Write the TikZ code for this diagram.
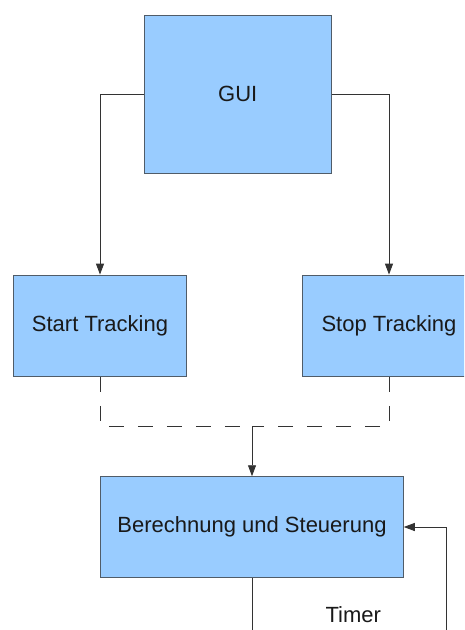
\documentclass[tikz,border=0pt]{standalone}
\usepackage{fontspec}
\setmainfont{Liberation Sans}
\usetikzlibrary{arrows.meta}
\definecolor{boxfill}{HTML}{99CCFF}
\definecolor{boxline}{HTML}{505C68}
\definecolor{wire}{HTML}{333333}
\tikzset{
  block/.style={draw=boxline, fill=boxfill, line width=0.9pt, rectangle,
    inner sep=0pt, font=\fontsize{22}{26}\selectfont, text=black!90},
  wireline/.style={draw=wire, line width=0.9pt},
  tip/.style={-{Triangle[length=11pt,width=8pt]}},
  dashwire/.style={wireline, dash pattern=on 15pt off 14pt},
}
\begin{document}
\begin{tikzpicture}[x=1pt,y=-1pt]
  \useasboundingbox (0,0) rectangle (464,630);
  \clip (0,0) rectangle (464,630);

  % blocks
  \node[block, minimum width=187.7pt, minimum height=158.7pt] (gui) at (237.8,94.3) {GUI};
  \node[block, minimum width=173.4pt, minimum height=101.3pt] (start) at (100,325.7) {Start Tracking};
  \node[block, minimum width=173.4pt, minimum height=101.3pt] (stop) at (389,325.7) {Stop Tracking};
  \node[block, minimum width=302.6pt, minimum height=100.6pt] (calc) at (252,527) {Berechnung und Steuerung};

  % helper points
  \coordinate (join) at (252,426);
  \coordinate (down) at (252,640);
  \coordinate (up) at (446.7,640);

  % GUI to the two buttons
  \draw[wireline, tip] (gui.west) -| (start.north);
  \draw[wireline, tip] (gui.east) -| (stop.north);

  % buttons merge into the control block
  \draw[dashwire] (start.south) |- (join);
  \draw[dashwire] (stop.south) |- (join);
  \draw[wireline, tip] (join) -- (calc.north);

  % timer loop
  \draw[wireline] (calc.south) -- (down);
  \draw[wireline, tip] (up) |- (calc.east);
  \node[font=\fontsize{22}{26}\selectfont, text=black!90] (timer) at (353.3,615) {Timer};
\end{tikzpicture}
\end{document}
